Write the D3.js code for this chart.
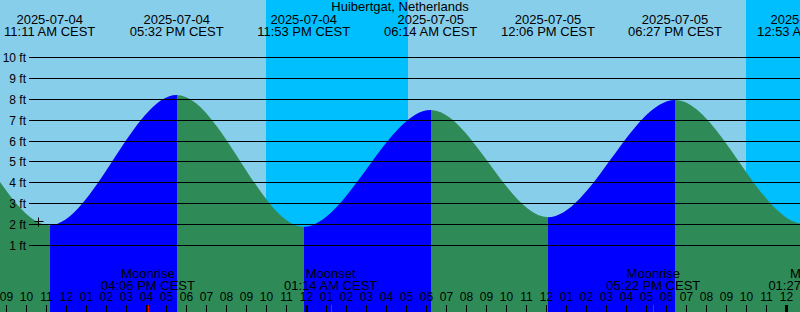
<!DOCTYPE html>
<html>
<head>
<meta charset="utf-8">
<script src="https://cdn.jsdelivr.net/npm/d3@7"></script>
<style>
  html, body { margin: 0; padding: 0; background: #87ceeb; }
  svg { display: block; font-family: "Liberation Sans", Arial, sans-serif; }
</style>
</head>
<body>
<div id="chart"></div>
<script>
// tide events (local CEST time, stored as UTC to avoid tz shifts)
var tideTimes = ["2025-07-03 22:45", "2025-07-04 05:00", "2025-07-04 11:11", "2025-07-04 17:32",
                 "2025-07-04 23:53", "2025-07-05 06:14", "2025-07-05 12:06", "2025-07-05 18:27",
                 "2025-07-06 00:53", "2025-07-06 07:10", "2025-07-06 13:20"];
var tideHeights = [2.1, 7.8, 1.98, 8.2, 1.9, 7.48, 2.36, 7.96, 2.05, 7.5, 2.3];

// night periods (sunset -> sunrise)
var sunsetTimes = ["2025-07-04 22:00", "2025-07-05 22:00"];
var sunriseTimes = ["2025-07-05 05:07", "2025-07-06 05:08"];

// moon events
var moonTimes = ["2025-07-04 16:06", "2025-07-05 01:14", "2025-07-05 17:22", "2025-07-06 01:27"];
var moonNames = ["Moonrise", "Moonset", "Moonrise", "Moonset"];

var feetTicks = [1, 2, 3, 4, 5, 6, 7, 8, 9, 10];

// the little cross marker
var markTime = "2025-07-04 10:35";
var markHeight = 2.18;

var title = "Huibertgat, Netherlands";

var width = 800, height = 312;
var parse = d3.utcParse("%Y-%m-%d %H:%M");
var fmtDate = d3.utcFormat("%Y-%m-%d");
var fmtTime = d3.utcFormat("%I:%M %p CEST");

var tides = tideTimes.map(function (t, i) {
    return {time: parse(t), ft: tideHeights[i]};
});

var x = d3.scaleUtc()
    .domain([parse("2025-07-04 08:42"), parse("2025-07-06 00:42")])
    .range([0, width]);

var y = d3.scaleLinear()
    .domain([0, 10])
    .range([266.63, 57.3]);

var svg = d3.select("#chart")
    .append("svg")
    .attr("width", width)
    .attr("height", height);

// background: day / night
svg.append("rect")
    .attr("width", width)
    .attr("height", height)
    .attr("fill", "#87ceeb");

svg.selectAll("rect.night")
    .data(sunsetTimes)
    .enter()
    .append("rect")
    .attr("class", "night")
    .attr("x", d => Math.round(x(parse(d))))
    .attr("y", 0)
    .attr("width", (d, i) => Math.round(x(parse(sunriseTimes[i]))) - Math.round(x(parse(d))))
    .attr("height", height)
    .attr("fill", "#00bfff");

// tide fill, one clipped copy per rising / falling segment
var area = d3.area()
    .x(d => x(d.time))
    .y0(height)
    .y1(d => y(d.ft))
    .curve(d3.curveMonotoneX);

var defs = svg.append("defs");
var segs = d3.range(tides.length - 1);

segs.forEach(function (i) {
    var a = Math.round(x(tides[i].time));
    var b = Math.round(x(tides[i + 1].time));
    defs.append("clipPath")
        .attr("id", "seg" + i)
        .append("rect")
        .attr("x", a)
        .attr("y", 0)
        .attr("width", b - a)
        .attr("height", height);
});

svg.selectAll("path.tide")
    .data(segs)
    .enter()
    .append("path")
    .attr("class", "tide")
    .attr("clip-path", i => "url(#seg" + i + ")")
    .attr("d", area(tides))
    .attr("fill", i => tides[i + 1].ft > tides[i].ft ? "#0000ff" : "#2e8b57");

// foot lines and labels
svg.selectAll("line.grid")
    .data(feetTicks)
    .enter()
    .append("line")
    .attr("class", "grid")
    .attr("x1", 29)
    .attr("x2", width)
    .attr("y1", d => Math.floor(y(d)) + 0.5)
    .attr("y2", d => Math.floor(y(d)) + 0.5)
    .attr("stroke", "#000")
    .attr("stroke-width", 1);

svg.selectAll("text.ft")
    .data(feetTicks)
    .enter()
    .append("text")
    .attr("class", "ft")
    .attr("x", 26)
    .attr("y", d => Math.floor(y(d)) + 4.5)
    .attr("text-anchor", "end")
    .style("font-size", "12px")
    .text(d => d + " ft");

// title and tide event headers
svg.append("text")
    .attr("x", width / 2)
    .attr("y", 10.5)
    .attr("text-anchor", "middle")
    .style("font-size", "13px")
    .text(title);

var head = svg.selectAll("g.head")
    .data(tides)
    .enter()
    .append("g")
    .attr("class", "head")
    .attr("transform", d => `translate(${x(d.time)},0)`)
    .style("font-size", "13px")
    .attr("text-anchor", "middle");

head.append("text").attr("y", 24).text(d => fmtDate(d.time));
head.append("text").attr("y", 36).text(d => fmtTime(d.time));

// moon labels
var moon = svg.selectAll("g.moon")
    .data(moonTimes)
    .enter()
    .append("g")
    .attr("class", "moon")
    .attr("transform", d => `translate(${x(parse(d))},0)`)
    .style("font-size", "13px")
    .attr("text-anchor", "middle");

moon.append("text").attr("y", 278).text((d, i) => moonNames[i]);
moon.append("text").attr("y", 290).text(d => fmtTime(parse(d)));

// hour axis along the bottom
var hourAxis = d3.axisTop(x)
    .ticks(d3.utcHour.every(1))
    .tickFormat(d3.utcFormat("%I"))
    .tickSizeInner(7)
    .tickSizeOuter(0)
    .tickPadding(4);

var axisG = svg.append("g")
    .attr("transform", `translate(0,${height})`)
    .call(hourAxis);

axisG.select(".domain").remove();
axisG.selectAll("text")
    .style("font-size", "12px")
    .style("font-family", "'Liberation Sans', Arial, sans-serif")
    .attr("fill", "#000");
axisG.selectAll(".tick line")
    .attr("stroke", "#000")
    .attr("stroke-width", d => d.getUTCHours() === 0 ? 3 : 1);

// moon event ticks
svg.selectAll("line.moontick")
    .data(moonTimes)
    .enter()
    .append("line")
    .attr("class", "moontick")
    .attr("x1", d => Math.round(x(parse(d))) + 0.5)
    .attr("x2", d => Math.round(x(parse(d))) + 0.5)
    .attr("y1", height - 7)
    .attr("y2", height)
    .attr("stroke", "#ff0000");

// cross marker
var mx = Math.round(x(parse(markTime))) + 0.5;
var my = Math.round(y(markHeight)) + 0.5;
svg.append("path")
    .attr("d", `M${mx - 4},${my}H${mx + 5}M${mx},${my - 4}V${my + 5}`)
    .attr("stroke", "#000")
    .attr("fill", "none");
</script>
</body>
</html>
